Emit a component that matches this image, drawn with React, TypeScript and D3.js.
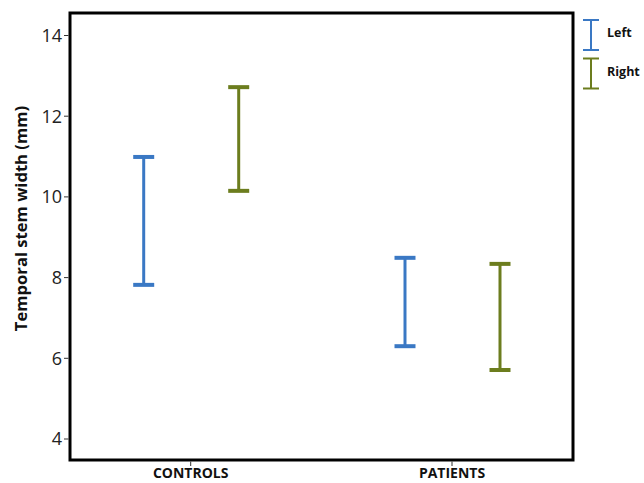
import React from "react";
import * as d3 from "d3";

const groups = ["CONTROLS", "PATIENTS"];
const sides = ["Left", "Right"];
const lowValues = [
  [7.82, 10.15],
  [6.3, 5.71],
];
const highValues = [
  [10.99, 12.72],
  [8.49, 8.34],
];
const yTicks = [4, 6, 8, 10, 12, 14];
const colors = ["#3a78c4", "#6c7d1e"];

export default function App() {
  const W = 644;
  const H = 483;
  const left = 70, right = 573, top = 13, bottom = 460;
  const y = d3.scaleLinear().domain([4, 14]).range([439, 35.5]);
  const x = d3.scalePoint<string>().domain(groups).range([190.7, 452]);
  const off = d3.scalePoint<string>().domain(sides).range([-47, 48]);
  const font = "'Open Sans', 'Liberation Sans', sans-serif";

  return (
    <svg width={W} height={H} style={{ position: "absolute", left: 0, top: 0 }}>
      <rect x={0} y={0} width={W} height={H} fill="#fff" />
      {/* frame */}
      <rect x={left} y={top} width={right - left} height={bottom - top} fill="none" stroke="#000" strokeWidth={3} />
      {/* y ticks */}
      {yTicks.map((t) => (
        <g key={t}>
          <line x1={left - 6} x2={left - 1.5} y1={y(t)} y2={y(t)} stroke="#333" strokeWidth={1} />
          <text x={left - 8} y={y(t)} dy="0.36em" textAnchor="end" fontFamily={font} fontSize={18} fill="#222">
            {t}
          </text>
        </g>
      ))}
      {/* x ticks */}
      {groups.map((g) => (
        <g key={g}>
          <line x1={x(g)} x2={x(g)} y1={bottom + 1.5} y2={bottom + 6} stroke="#333" strokeWidth={1} />
          <text x={x(g)} y={478} textAnchor="middle" fontFamily={font} fontSize={14} fontWeight="bold" fill="#111">
            {g}
          </text>
        </g>
      ))}
      {/* y label */}
      <text
        transform={`translate(27,218.5) rotate(-90)`}
        textAnchor="middle"
        fontFamily={font}
        fontSize={16.6}
        fontWeight="bold"
        fill="#111"
      >
        Temporal stem width (mm)
      </text>
      {/* error bars */}
      {groups.map((g, gi) =>
        sides.map((s, si) => {
          const cx = (x(g) as number) + (off(s) as number);
          const lo = lowValues[gi][si];
          const hi = highValues[gi][si];
          return (
            <g key={g + s} stroke={colors[si]}>
              <line x1={cx} x2={cx} y1={y(hi)} y2={y(lo)} strokeWidth={3} />
              <line x1={cx - 10.5} x2={cx + 10.5} y1={y(hi)} y2={y(hi)} strokeWidth={4} />
              <line x1={cx - 10.5} x2={cx + 10.5} y1={y(lo)} y2={y(lo)} strokeWidth={4} />
            </g>
          );
        })
      )}
      {/* legend */}
      {sides.map((s, si) => {
        const y0 = 20 + si * 38.5;
        const y1 = y0 + 30;
        const cx = 591;
        return (
          <g key={s}>
            <g stroke={colors[si]} strokeWidth={2}>
              <line x1={cx} x2={cx} y1={y0} y2={y1} />
              <line x1={cx - 8} x2={cx + 8} y1={y0} y2={y0} />
              <line x1={cx - 8} x2={cx + 8} y1={y1} y2={y1} />
            </g>
            <text x={607} y={(y0 + y1) / 2 - 2} dy="0.35em" fontFamily={font} fontSize={12.5} fontWeight="bold" fill="#111">
              {s}
            </text>
          </g>
        );
      })}
    </svg>
  );
}
